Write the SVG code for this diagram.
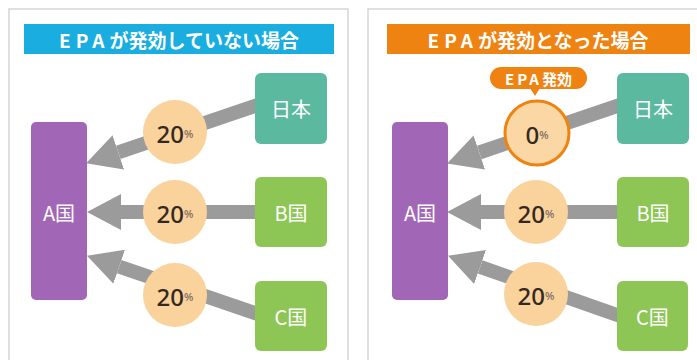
<svg xmlns="http://www.w3.org/2000/svg" width="697" height="360" viewBox="0 0 697 360">
<style>
.panel{fill:#fff;stroke:#d6d6d6;stroke-width:1.5}
.title{font-family:"Noto Sans CJK JP","Noto Sans",sans-serif;font-weight:700;font-size:19px;fill:#fff;text-anchor:middle;dominant-baseline:central}
.lbl{font-family:"Noto Sans CJK JP","Noto Sans",sans-serif;font-size:20px;fill:#fff;text-anchor:middle;dominant-baseline:central}
.jp{fill:#5bb99f}
.grn{fill:#8dc655}
.pur{fill:#a266b6}
.rate{fill:#f9d29c}
.num{font-family:"Noto Sans","Open Sans",sans-serif;font-size:24px;font-weight:500;fill:#35281e;text-anchor:middle;dominant-baseline:central}
.pct{font-size:11px;fill:#7d6b5c}
.shaft{stroke:#9b9b9b;stroke-width:14;fill:none;marker-end:url(#ah)}
</style>
<defs>
<marker id="ah" markerUnits="userSpaceOnUse" markerWidth="34" markerHeight="36" refX="0" refY="18" orient="auto">
<path d="M0,0 L34,18 L0,36 Z" fill="#9b9b9b"/>
</marker>
</defs>
<rect width="697" height="360" fill="#fff"/>
<rect class="panel" x="9" y="9" width="339" height="360"/>
<rect class="panel" x="368" y="9" width="340" height="360"/>

<g id="title-left">
<rect x="24" y="24" width="310" height="30" fill="#1aade0"/>
<text class="title" x="179" y="39"><tspan letter-spacing="5">EPA</tspan>が発効していない場合</text>
</g>
<g id="title-right">
<rect x="387" y="24" width="303" height="30" fill="#ef8312"/>
<text class="title" x="538" y="39"><tspan letter-spacing="5">EPA</tspan>が発効となった場合</text>
</g>

<g id="connectors">
<line class="shaft" x1="258" y1="105" x2="118.3" y2="152.4"/>
<line class="shaft" x1="258" y1="212" x2="121" y2="212"/>
<line class="shaft" x1="258" y1="314" x2="119.2" y2="266.7"/>
<line class="shaft" x1="620" y1="105" x2="479.3" y2="152.5"/>
<line class="shaft" x1="620" y1="212" x2="481" y2="212"/>
<line class="shaft" x1="620" y1="316" x2="480.1" y2="266.9"/>
</g>

<g id="rate-jp-left"><circle class="rate" cx="175" cy="132" r="32"/><text class="num" x="175" y="133">20<tspan class="pct">%</tspan></text></g>
<g id="rate-b-left"><circle class="rate" cx="175" cy="212" r="32"/><text class="num" x="175" y="213">20<tspan class="pct">%</tspan></text></g>
<g id="rate-c-left"><circle class="rate" cx="175" cy="295" r="32"/><text class="num" x="175" y="296">20<tspan class="pct">%</tspan></text></g>

<g id="rate-jp-right">
<rect x="490" y="67" width="97" height="22" rx="11" fill="#ef8312"/>
<path d="M530,88 L535,96 L540,88 Z" fill="#ef8312"/>
<circle cx="537" cy="133" r="32" fill="#fbd7a6" stroke="#ef8312" stroke-width="3"/>
<text class="title" x="538.5" y="78" style="font-size:15px"><tspan letter-spacing="3">EPA</tspan>発効</text>
<text class="num" x="537" y="134">0<tspan class="pct">%</tspan></text>
</g>
<g id="rate-b-right"><circle class="rate" cx="536" cy="212" r="32"/><text class="num" x="536" y="213">20<tspan class="pct">%</tspan></text></g>
<g id="rate-c-right"><circle class="rate" cx="536" cy="294" r="32"/><text class="num" x="536" y="295">20<tspan class="pct">%</tspan></text></g>

<g id="a-left"><rect class="pur" x="31" y="122" width="56" height="178" rx="5"/><text class="lbl" x="59" y="212">A国</text></g>
<g id="japan-left"><rect class="jp" x="255" y="73" width="72" height="71" rx="6"/><text class="lbl" x="291" y="108">日本</text></g>
<g id="b-left"><rect class="grn" x="255" y="177" width="72" height="70" rx="6"/><text class="lbl" x="291" y="212">B国</text></g>
<g id="c-left"><rect class="grn" x="255" y="281" width="72" height="70" rx="6"/><text class="lbl" x="291" y="316">C国</text></g>

<g id="a-right"><rect class="pur" x="392" y="122" width="56" height="178" rx="5"/><text class="lbl" x="420" y="212">A国</text></g>
<g id="japan-right"><rect class="jp" x="617" y="73" width="72" height="71" rx="6"/><text class="lbl" x="653" y="108">日本</text></g>
<g id="b-right"><rect class="grn" x="617" y="177" width="72" height="70" rx="6"/><text class="lbl" x="653" y="212">B国</text></g>
<g id="c-right"><rect class="grn" x="617" y="281" width="71" height="70" rx="6"/><text class="lbl" x="652.5" y="316">C国</text></g>
</svg>
